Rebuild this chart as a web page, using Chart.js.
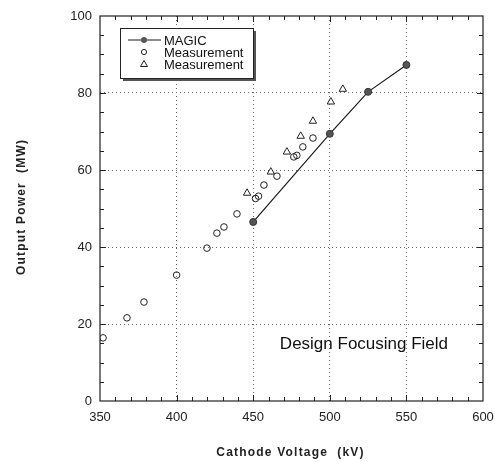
<!DOCTYPE html>
<html>
<head>
<meta charset="utf-8">
<script src="https://cdn.jsdelivr.net/npm/chart.js@4/dist/chart.umd.min.js"></script>
<style>
html,body{margin:0;padding:0;background:#fff;}
#wrap{width:495px;height:462px;position:relative;}
</style>
</head>
<body>
<div id="wrap"><canvas id="c" width="495" height="462"></canvas></div>
<script>
// ---- data ----
const magicVoltage = [450, 500, 525, 550];
const magicPower   = [46.5, 69.4, 80.3, 87.3];

const meas1Voltage = [352, 367.6, 378.7, 400, 419.8, 426.3, 430.9, 439.4, 451.5, 453.5, 457, 465.5, 476.5, 478.5, 482.4, 489];
const meas1Power   = [16.4, 21.6, 25.7, 32.7, 39.7, 43.6, 45.2, 48.6, 52.6, 53.2, 56.1, 58.4, 63.4, 63.8, 66, 68.3];

const meas2Voltage = [446, 461.5, 472, 481, 489, 500.7, 508.5];
const meas2Power   = [54, 59.5, 64.7, 68.8, 72.7, 77.7, 81];

const xTicks = [350, 400, 450, 500, 550, 600];
const yTicks = [0, 20, 40, 60, 80, 100];

const seriesNames = ['MAGIC', 'Measurement', 'Measurement'];
const xTitle = 'Cathode Voltage  (kV)';
const yTitle = 'Output Power  (MW)';
const annotation = 'Design Focusing Field';

const toPts = (xs, ys) => xs.map((x, i) => ({x: x, y: ys[i]}));

const FONT = '"Liberation Sans", Arial, sans-serif';

// minor ticks, frame, legend, titles
const decor = {
  id: 'decor',
  afterDraw(chart) {
    const ctx = chart.ctx;
    const a = chart.chartArea;
    const xs = chart.scales.x, ys = chart.scales.y;
    ctx.save();
    // frame
    ctx.strokeStyle = '#222';
    ctx.lineWidth = 1.2;
    ctx.strokeRect(a.left, a.top, a.right - a.left, a.bottom - a.top);
    // inward ticks
    ctx.lineWidth = 1;
    ctx.beginPath();
    for (let v = xs.min + 10; v < xs.max; v += 10) {
      const px = Math.round(xs.getPixelForValue(v)) + 0.5;
      const len = (v % 50 === 0) ? 6 : 4;
      ctx.moveTo(px, a.bottom); ctx.lineTo(px, a.bottom - len);
      ctx.moveTo(px, a.top); ctx.lineTo(px, a.top + len);
    }
    for (let v = ys.min + 5; v < ys.max; v += 5) {
      const py = Math.round(ys.getPixelForValue(v)) + 0.5;
      const len = (v % 20 === 0) ? 6 : 4;
      ctx.moveTo(a.left, py); ctx.lineTo(a.left + len, py);
      ctx.moveTo(a.right, py); ctx.lineTo(a.right - len, py);
    }
    ctx.stroke();

    // legend box with shadow
    const lx = 120, ly = 28, lw = 133, lh = 50;
    ctx.fillStyle = '#555';
    ctx.fillRect(lx + 3, ly + 3, lw, lh);
    ctx.fillStyle = '#fff';
    ctx.fillRect(lx, ly, lw, lh);
    ctx.strokeStyle = '#222';
    ctx.lineWidth = 1;
    ctx.strokeRect(lx + 0.5, ly + 0.5, lw, lh);

    ctx.font = '13px ' + FONT;
    ctx.fillStyle = '#111';
    ctx.textBaseline = 'middle';
    ctx.textAlign = 'left';
    const rows = [ly + 12, ly + 24, ly + 36];
    const ds = chart.data.datasets;
    // row 1: line + dot
    ctx.strokeStyle = ds[0].borderColor;
    ctx.lineWidth = 1.2;
    ctx.beginPath(); ctx.moveTo(lx + 8, rows[0]); ctx.lineTo(lx + 41, rows[0]); ctx.stroke();
    ctx.fillStyle = ds[0].pointBackgroundColor;
    ctx.beginPath(); ctx.arc(lx + 24, rows[0], 3, 0, Math.PI * 2); ctx.fill();
    // row 2: circle
    ctx.strokeStyle = '#222';
    ctx.lineWidth = 1;
    ctx.beginPath(); ctx.arc(lx + 24, rows[1], 2.6, 0, Math.PI * 2); ctx.stroke();
    // row 3: triangle
    ctx.beginPath();
    ctx.moveTo(lx + 24, rows[2] - 3.5);
    ctx.lineTo(lx + 27.5, rows[2] + 2.5);
    ctx.lineTo(lx + 20.5, rows[2] + 2.5);
    ctx.closePath(); ctx.stroke();
    ctx.fillStyle = '#111';
    for (let i = 0; i < 3; i++) ctx.fillText(seriesNames[i], lx + 44, rows[i] + 1);

    // annotation
    ctx.font = '17px ' + FONT;
    ctx.textBaseline = 'alphabetic';
    ctx.fillText(annotation, xs.getPixelForValue(467.4), ys.getPixelForValue(13.4));

    // axis titles
    ctx.font = 'bold 12px ' + FONT;
    ctx.letterSpacing = '1.2px';
    ctx.textAlign = 'center';
    ctx.textBaseline = 'middle';
    ctx.fillStyle = '#222';
    ctx.fillText(xTitle, (a.left + a.right) / 2 - 1, 453);
    ctx.translate(22, 207);
    ctx.rotate(-Math.PI / 2);
    ctx.fillText(yTitle, 0, 0);
    ctx.restore();
  }
};

const gridColor = (edgeA, edgeB) => (c) =>
  (c.tick && (c.tick.value === edgeA || c.tick.value === edgeB)) ? 'rgba(0,0,0,0)' : '#666';

new Chart(document.getElementById('c'), {
  type: 'scatter',
  data: {
    datasets: [
      {
        label: seriesNames[0],
        data: toPts(magicVoltage, magicPower),
        showLine: true,
        borderColor: '#1a1a1a',
        borderWidth: 1.2,
        pointBackgroundColor: '#555',
        pointBorderColor: '#333',
        pointBorderWidth: 1,
        pointRadius: 3.5,
        pointStyle: 'circle',
        order: 1
      },
      {
        label: seriesNames[1],
        data: toPts(meas1Voltage, meas1Power),
        showLine: false,
        pointStyle: 'circle',
        pointRadius: 3.3,
        pointBackgroundColor: 'rgba(255,255,255,0)',
        pointBorderColor: '#222',
        pointBorderWidth: 1,
        order: 2
      },
      {
        label: seriesNames[2],
        data: toPts(meas2Voltage, meas2Power),
        showLine: false,
        pointStyle: 'triangle',
        pointRadius: 4.3,
        pointBackgroundColor: 'rgba(255,255,255,0)',
        pointBorderColor: '#222',
        pointBorderWidth: 1,
        order: 3
      }
    ]
  },
  options: {
    responsive: false,
    animation: false,
    devicePixelRatio: 1,
    layout: { padding: { left: 0, top: 16, right: 12, bottom: 0 } },
    plugins: { legend: { display: false }, tooltip: { enabled: false } },
    scales: {
      x: {
        type: 'linear',
        min: 350, max: 600,
        afterFit(s) { s.height = 61; s.paddingLeft = 0; s.paddingRight = 0; },
        afterBuildTicks(s) { s.ticks = xTicks.map(v => ({value: v})); },
        border: { display: false, dash: [1, 3] },
        grid: {
          color: gridColor(350, 600),
          lineWidth: 1,
          drawTicks: false
        },
        ticks: {
          color: '#222',
          font: { size: 13, family: FONT },
          padding: 9
        }
      },
      y: {
        type: 'linear',
        min: 0, max: 100,
        afterFit(s) { s.width = 100; s.paddingTop = 0; s.paddingBottom = 0; },
        afterBuildTicks(s) { s.ticks = yTicks.map(v => ({value: v})); },
        border: { display: false, dash: [1, 3] },
        grid: {
          color: gridColor(0, 100),
          lineWidth: 1,
          drawTicks: false
        },
        ticks: {
          color: '#222',
          font: { size: 13, family: FONT },
          padding: 8
        }
      }
    }
  },
  plugins: [decor]
});
</script>
</body>
</html>
